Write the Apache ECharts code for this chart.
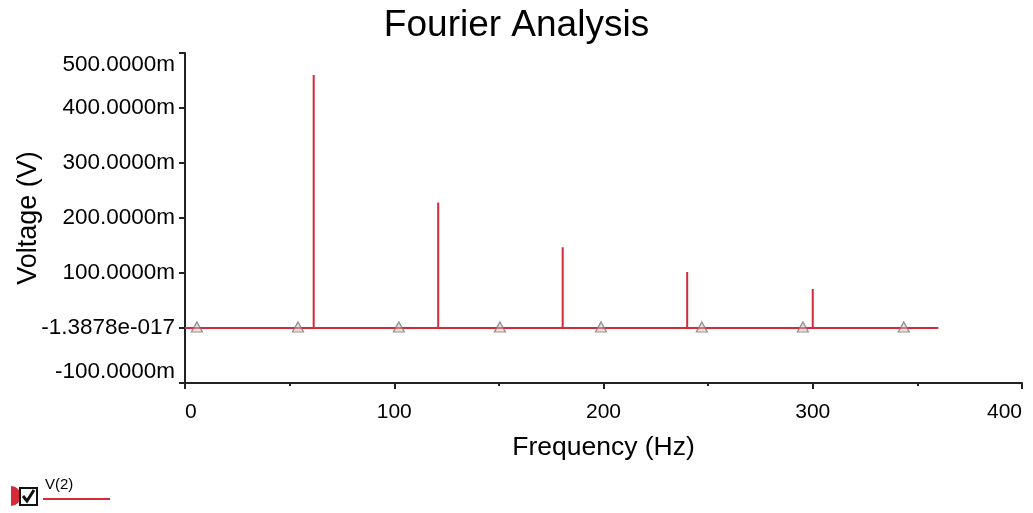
<!DOCTYPE html>
<html>
<head>
<meta charset="utf-8">
<script src="https://cdn.jsdelivr.net/npm/echarts@6/dist/echarts.min.js"></script>
<style>
html,body{margin:0;padding:0;background:#fff;}
#chart{width:1033px;height:513px;}
</style>
</head>
<body>
<div id="chart"></div>
<script>
// Spectrum lines (frequency in Hz, amplitude in V)
const spikeFreqs = [61.5, 121, 180.5, 240, 300];
const spikeValues = [0.46, 0.228, 0.147, 0.102, 0.071];
const traceStart = 0;
const traceEnd = 360;
// Trace markers (triangles) along the baseline
const markerFreqs = [5.7, 54, 102.2, 150.5, 198.8, 247, 295.3, 343.5];
// Axis tick labels
const yTickLabels = ['-100.0000m', '-1.3878e-017', '100.0000m', '200.0000m', '300.0000m', '400.0000m', '500.0000m'];
const xTickLabels = ['0', '100', '200', '300', '400'];

const trace = [[traceStart, 0]];
spikeFreqs.forEach((f, i) => {
  trace.push([f, 0], [f, spikeValues[i]], [f, 0]);
});
trace.push([traceEnd, 0]);

const RED = '#d42a3a';
const FONT = 'Liberation Sans, Arial, sans-serif';

const chart = echarts.init(document.getElementById('chart'));
chart.setOption({
  animation: false,
  backgroundColor: '#ffffff',
  title: {
    text: 'Fourier Analysis',
    left: 'center',
    top: 2,
    textStyle: { fontFamily: FONT, fontSize: 37, fontWeight: 'normal', color: '#000' }
  },
  grid: { left: 185, right: 11, top: 53, bottom: 130, containLabel: false, outerBoundsMode: 'none' },
  xAxis: {
    type: 'value', min: 0, max: 400, interval: 100,
    name: 'Frequency (Hz)', nameLocation: 'middle', nameGap: 51, nameMoveOverlap: false,
    nameTextStyle: { fontFamily: FONT, fontSize: 26.5, color: '#000' },
    axisLine: { onZero: false, lineStyle: { color: '#222', width: 2 } },
    axisTick: { show: true, length: 6, lineStyle: { color: '#222', width: 2 } },
    minorTick: { show: true, splitNumber: 2, length: 3, lineStyle: { color: '#222', width: 2 } },
    splitLine: { show: false },
    axisLabel: {
      fontFamily: FONT, fontSize: 21, color: '#000', margin: 19,
      alignMinLabel: 'left', alignMaxLabel: 'right',
      formatter: (v, i) => xTickLabels[i]
    }
  },
  yAxis: {
    type: 'value', min: -0.1, max: 0.5, interval: 0.1,
    name: 'Voltage (V)', nameLocation: 'middle', nameGap: 143, nameMoveOverlap: false,
    nameTextStyle: { fontFamily: FONT, fontSize: 27, color: '#000' },
    axisLine: { show: true, onZero: false, lineStyle: { color: '#222', width: 2 } },
    axisTick: { show: true, length: 6, lineStyle: { color: '#222', width: 2 } },
    splitLine: { show: false },
    axisLabel: {
      fontFamily: FONT, fontSize: 22.5, color: '#000', margin: 10,
      verticalAlignMaxLabel: 'top', verticalAlignMinLabel: 'bottom',
      formatter: (v, i) => yTickLabels[i]
    }
  },
  series: [
    {
      type: 'line', data: trace, showSymbol: false, symbol: 'none',
      lineStyle: { color: RED, width: 2 }, silent: true, z: 2
    },
    {
      type: 'scatter', data: markerFreqs.map(f => [f, 0]),
      symbol: 'triangle', symbolSize: [11, 10], symbolOffset: [0, -1],
      itemStyle: { color: 'rgba(225,190,190,0.6)', borderColor: '#7a7a7a', borderWidth: 1.3 },
      silent: true, z: 3
    }
  ],
  graphic: [
    { type: 'sector', shape: { cx: 11, cy: 496, r: 10, r0: 0, startAngle: -Math.PI / 2, endAngle: Math.PI / 2 }, style: { fill: RED } },
    { type: 'rect', shape: { x: 20, y: 488, width: 17, height: 17 }, style: { fill: '#fff', stroke: '#111', lineWidth: 2 } },
    { type: 'polyline', shape: { points: [[23, 496], [27, 501], [34, 490]] }, style: { stroke: '#111', lineWidth: 3, fill: null } },
    { type: 'text', style: { x: 45, y: 477, text: 'V(2)', fontFamily: FONT, fontSize: 15, fill: '#000' } },
    { type: 'line', shape: { x1: 43, y1: 499, x2: 110, y2: 499 }, style: { stroke: RED, lineWidth: 2 } }
  ]
});
</script>
</body>
</html>
